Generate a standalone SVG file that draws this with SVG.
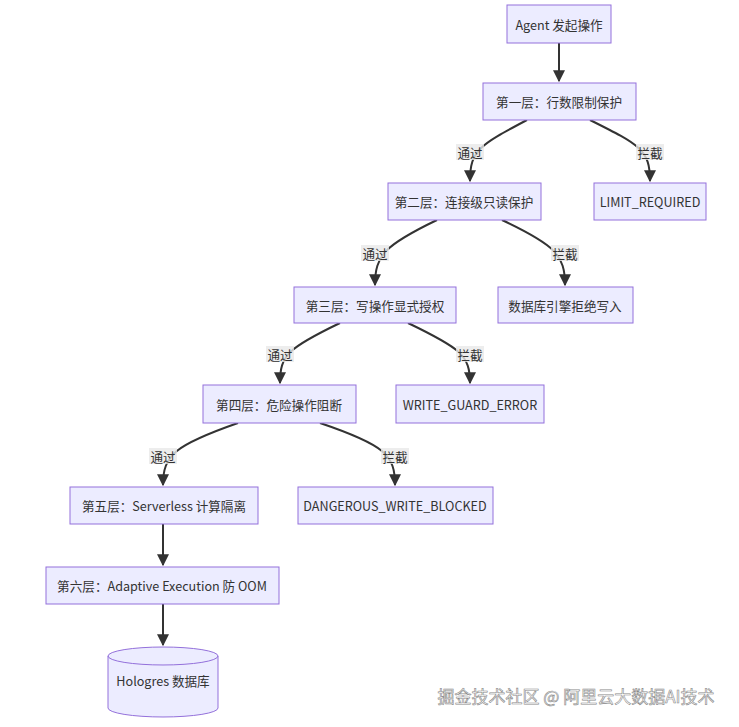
<svg xmlns="http://www.w3.org/2000/svg" width="739" height="727" viewBox="0 0 739 727">
<style>
.n rect,.n path{fill:#ECECFF;stroke:#9370DB;stroke-width:1}
text{font-family:"Noto Sans CJK SC","Noto Sans",sans-serif;font-size:12.6px;fill:#333;text-anchor:middle;dominant-baseline:central}
.e path{fill:none;stroke:#333;stroke-width:2}
.lb rect{fill:#e8e8e8;opacity:0.8}
</style>
<defs><marker id="a" viewBox="0 0 10 10" refX="9" refY="5" markerWidth="6" markerHeight="6" orient="auto"><path d="M0,0L10,5L0,10z" fill="#333"/></marker></defs>
<rect width="739" height="727" fill="#fff"/>
<g class="e">
<path d="M559,43V81" marker-end="url(#a)"/>
<path d="M527,120C480,145 470,150 470,181" marker-end="url(#a)"/>
<path d="M590,120C640,145 650,150 650,181" marker-end="url(#a)"/>
<path d="M437,220C385,245 375,255 375,285" marker-end="url(#a)"/>
<path d="M502,220C555,245 565,255 565,285" marker-end="url(#a)"/>
<path d="M340,323C288,348 280,355 280,383" marker-end="url(#a)"/>
<path d="M408,323C460,348 470,355 470,383" marker-end="url(#a)"/>
<path d="M238,423C175,445 163,455 163,485" marker-end="url(#a)"/>
<path d="M320,423C385,445 395,455 395,485" marker-end="url(#a)"/>
<path d="M163,524V565" marker-end="url(#a)"/>
<path d="M163,604V645" marker-end="url(#a)"/>
</g>
<g class="lb">
<rect x="456" y="144" width="28" height="16"/><text x="470" y="152">通过</text>
<rect x="636" y="144" width="28" height="16"/><text x="650" y="152">拦截</text>
<rect x="361" y="245" width="28" height="16"/><text x="375" y="253">通过</text>
<rect x="551" y="245" width="28" height="16"/><text x="565" y="253">拦截</text>
<rect x="266" y="346" width="28" height="16"/><text x="280" y="354">通过</text>
<rect x="456" y="346" width="28" height="16"/><text x="470" y="354">拦截</text>
<rect x="149" y="448" width="28" height="16"/><text x="163" y="456">通过</text>
<rect x="381" y="448" width="28" height="16"/><text x="395" y="456">拦截</text>
</g>
<g id="n0" class="n"><rect x="507" y="5" width="104" height="38"/><text x="559" y="24">Agent 发起操作</text></g>
<g id="n1" class="n"><rect x="483" y="83" width="153" height="37"/><text x="559" y="101">第一层：行数限制保护</text></g>
<g id="n2" class="n"><rect x="594" y="183" width="112" height="37"/><text x="650" y="201">LIMIT_REQUIRED</text></g>
<g id="n3" class="n"><rect x="388" y="183" width="153" height="37"/><text x="464" y="201">第二层：连接级只读保护</text></g>
<g id="n4" class="n"><rect x="498" y="287" width="135" height="36"/><text x="565" y="305">数据库引擎拒绝写入</text></g>
<g id="n5" class="n"><rect x="294" y="287" width="162" height="36"/><text x="375" y="305">第三层：写操作显式授权</text></g>
<g id="n6" class="n"><rect x="396" y="385" width="148" height="38"/><text x="470" y="404">WRITE_GUARD_ERROR</text></g>
<g id="n7" class="n"><rect x="203" y="385" width="153" height="38"/><text x="279" y="404">第四层：危险操作阻断</text></g>
<g id="n8" class="n"><rect x="298" y="487" width="195" height="37"/><text x="395" y="505">DANGEROUS_WRITE_BLOCKED</text></g>
<g id="n9" class="n"><rect x="70" y="487" width="188" height="37"/><text x="164" y="505">第五层：Serverless 计算隔离</text></g>
<g id="n10" class="n"><rect x="46" y="567" width="233" height="37"/><text x="162" y="585">第六层：Adaptive Execution 防 OOM</text></g>
<g id="n11" class="n"><path d="M108,656A55,9 0 0 1 218,656V708A55,9 0 0 1 108,708Z"/><path d="M108,656A55,9 0 0 0 218,656" style="fill:none"/><text x="163" y="680">Hologres 数据库</text></g>
<text x="576" y="695" style="font-size:17px;fill:#fff;stroke:#888;stroke-width:0.6">掘金技术社区 @ 阿里云大数据AI技术</text>
</svg>
